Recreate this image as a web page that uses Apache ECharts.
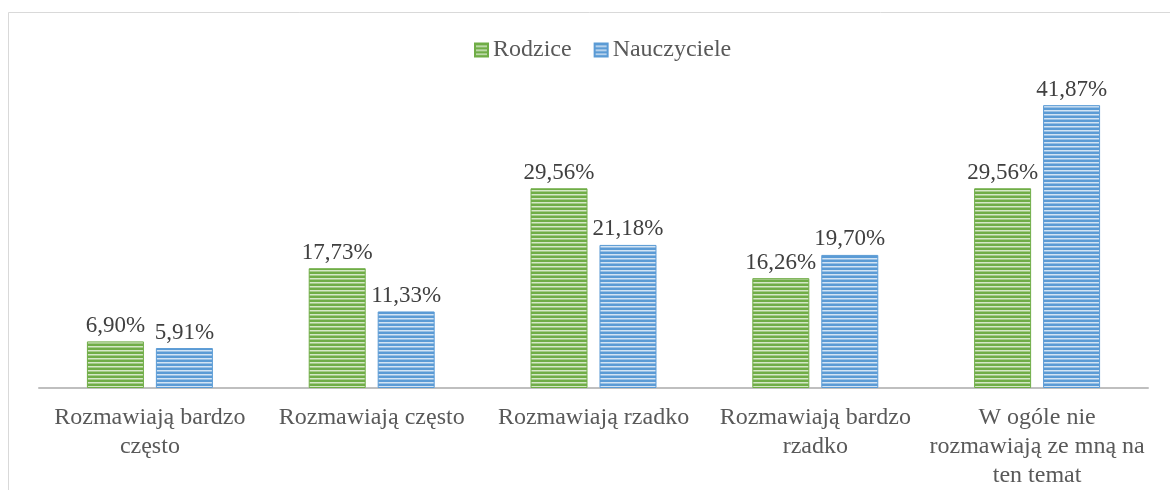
<!DOCTYPE html>
<html>
<head>
<meta charset="utf-8">
<script src="https://cdn.jsdelivr.net/npm/echarts@6/dist/echarts.min.js"></script>
<style>
  html, body { margin: 0; padding: 0; background: #fff; }
  #chart { width: 1170px; height: 490px; }
</style>
</head>
<body>
<div id="chart"></div>
<script>
const categories = [
  'Rozmawiają bardzo\nczęsto',
  'Rozmawiają często',
  'Rozmawiają rzadko',
  'Rozmawiają bardzo\nrzadko',
  'W ogóle nie\nrozmawiają ze mną na\nten temat'
];
const rodzice = [6.90, 17.73, 29.56, 16.26, 29.56];
const nauczyciele = [5.91, 11.33, 21.18, 19.70, 41.87];
const seriesNames = ['Rodzice', 'Nauczyciele'];

const FONT = '"Liberation Serif", "DejaVu Serif", serif';

// wzór poziomych pasków jak w Excelu
function paski(ciemny, jasny) {
  const c = document.createElement('canvas');
  c.width = 4;
  c.height = 4;
  const ctx = c.getContext('2d');
  ctx.fillStyle = ciemny;
  ctx.fillRect(0, 0, 4, 4);
  ctx.fillStyle = jasny;
  ctx.fillRect(0, 2, 4, 1);
  ctx.globalAlpha = 0.5;
  ctx.fillRect(0, 3, 4, 1);
  return { image: c, repeat: 'repeat' };
}

const zielony = paski('#70ad47', '#d5e8c8');
const niebieski = paski('#5b9bd5', '#d3e4f4');

function etykieta(p) {
  return p.value.toFixed(2).replace('.', ',') + '%';
}

function seria(nazwa, dane, kolor, brzeg) {
  return {
    name: nazwa,
    type: 'bar',
    data: dane,
    barWidth: 57,
    barGap: '21%',
    itemStyle: { color: kolor, borderColor: brzeg, borderWidth: 1 },
    label: {
      show: true,
      position: 'top',
      distance: 4,
      formatter: etykieta,
      fontFamily: FONT,
      fontSize: 23,
      color: '#404040'
    }
  };
}

const chart = echarts.init(document.getElementById('chart'), null, { renderer: 'canvas' });

chart.setOption({
  animation: false,
  backgroundColor: '#ffffff',
  graphic: [
    {
      type: 'rect',
      shape: { x: 8.5, y: 12.5, width: 1200, height: 520 },
      style: { fill: 'none', stroke: '#d9d9d9', lineWidth: 1 },
      silent: true
    }
  ],
  legend: {
    data: seriesNames,
    top: 33,
    left: 469,
    icon: 'rect',
    itemWidth: 13,
    itemHeight: 13,
    itemGap: 22,
    textStyle: { fontFamily: FONT, fontSize: 24, color: '#595959' }
  },
  grid: { left: 39, right: 22, top: 84, bottom: 102, containLabel: false, outerBoundsMode: 'none' },
  xAxis: {
    type: 'category',
    data: categories,
    axisLine: { lineStyle: { color: '#bfbfbf', width: 2 } },
    axisTick: { show: false },
    axisLabel: {
      interval: 0,
      margin: 15,
      fontFamily: FONT,
      fontSize: 24,
      lineHeight: 29,
      color: '#595959'
    }
  },
  yAxis: {
    type: 'value',
    min: 0,
    max: 45,
    show: false,
    splitLine: { show: false }
  },
  series: [
    seria(seriesNames[0], rodzice, zielony, '#70ad47'),
    seria(seriesNames[1], nauczyciele, niebieski, '#5b9bd5')
  ]
});
</script>
</body>
</html>
